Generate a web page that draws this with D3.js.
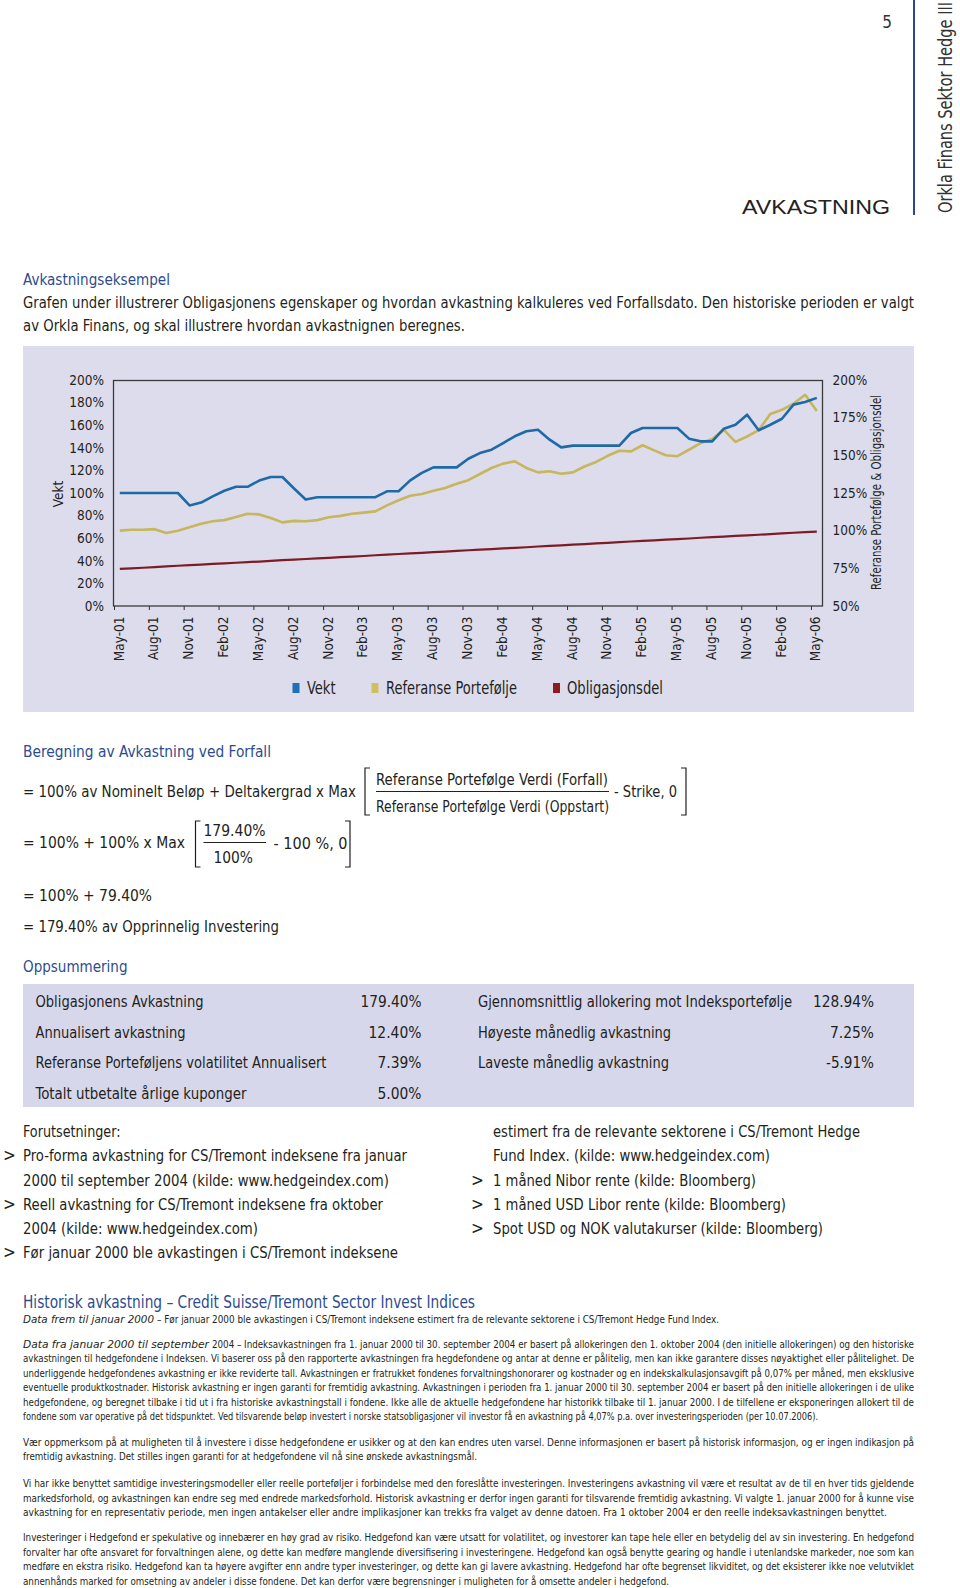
<!DOCTYPE html>
<html><head><meta charset="utf-8">
<script src="https://cdn.jsdelivr.net/npm/d3@7"></script>
<style>html,body{margin:0;padding:0;background:#fff;} svg{display:block;}</style>
</head><body><svg id="page" width="960" height="1588"></svg>
<script>
// ---------- chart data ----------
const months = ["May-01","Jun-01","Jul-01","Aug-01","Sep-01","Oct-01","Nov-01","Dec-01",
"Jan-02","Feb-02","Mar-02","Apr-02","May-02","Jun-02","Jul-02","Aug-02","Sep-02","Oct-02","Nov-02","Dec-02",
"Jan-03","Feb-03","Mar-03","Apr-03","May-03","Jun-03","Jul-03","Aug-03","Sep-03","Oct-03","Nov-03","Dec-03",
"Jan-04","Feb-04","Mar-04","Apr-04","May-04","Jun-04","Jul-04","Aug-04","Sep-04","Oct-04","Nov-04","Dec-04",
"Jan-05","Feb-05","Mar-05","Apr-05","May-05","Jun-05","Jul-05","Aug-05","Sep-05","Oct-05","Nov-05","Dec-05",
"Jan-06","Feb-06","Mar-06","Apr-06","May-06"];
const tickLabels = ["May-01","Aug-01","Nov-01","Feb-02","May-02","Aug-02","Nov-02","Feb-03","May-03","Aug-03","Nov-03",
"Feb-04","May-04","Aug-04","Nov-04","Feb-05","May-05","Aug-05","Nov-05","Feb-06","May-06"];
// Vekt (left axis, %)
const vekt = [100,100,100,100,100,100,89,91.5,97,102,105.5,105.5,111,114.2,114.2,104,94.3,96.3,96.3,96.3,
96.3,96.3,96.3,101.5,101.5,111.2,117.8,122.7,122.7,122.7,130.3,135.3,138.3,144.2,150.2,154.6,156,147.2,140.4,141.9,
141.9,141.9,141.9,141.9,153.1,157.5,157.5,157.5,157.5,148.1,145.7,145.7,156.9,160.4,169.3,155.5,160.4,165.7,178.2,180.5,184.2];
// Referanse Portefølje (right axis, %)
const referanse = [100,100.6,100.6,101,98.4,100,102.2,104.6,106.2,107,109,111.2,110.8,108.4,105.5,106.5,106.2,107,108.9,109.8,
111.2,112,112.8,116.8,120.2,123.2,124.3,126.5,128.3,131.2,133.5,137.6,141.6,144.5,146,141.6,138.7,139.4,137.8,138.7,
142.6,145.6,149.7,153,152.6,156.7,153.3,150.1,149.4,153.7,158.1,160.9,166.9,158.9,162.5,166.7,177.5,180.2,184.3,190.2,179.4];
// Obligasjonsdel (right axis, %)
const obligasjonsdel = [74.6,75.0,75.4,75.8,76.3,76.7,77.1,77.5,77.9,78.3,78.7,79.1,79.5,79.9,80.4,80.8,81.2,81.6,82.0,82.4,
82.8,83.2,83.7,84.1,84.5,84.9,85.3,85.7,86.1,86.6,87.0,87.4,87.8,88.2,88.6,89.0,89.5,89.9,90.3,90.7,
91.1,91.5,91.9,92.4,92.8,93.2,93.6,94.0,94.4,94.8,95.3,95.7,96.1,96.5,96.9,97.3,97.7,98.2,98.6,99.0,99.4];
const leftTicks = [0,20,40,60,80,100,120,140,160,180,200];
const rightTicks = [50,75,100,125,150,175,200];
const seriesNames = ["Vekt","Referanse Portefølje","Obligasjonsdel"];

// summary table
const sumLabelsL = ["Obligasjonens Avkastning","Annualisert avkastning","Referanse Porteføljens volatilitet Annualisert","Totalt utbetalte årlige kuponger"];
const sumValuesL = ["179.40%","12.40%","7.39%","5.00%"];
const sumLabelsR = ["Gjennomsnittlig allokering mot Indeksportefølje","Høyeste månedlig avkastning","Laveste månedlig avkastning"];
const sumValuesR = ["128.94%","7.25%","-5.91%"];

// ---------- styles ----------
const FF = "'Liberation Sans Narrow','Arial Narrow','DejaVu Sans Condensed','Roboto Condensed','Noto Sans',sans-serif";
const INK = "#231f20", BLUEH = "#2d4c8e", BG = "#dcdced", BGT = "#d7d7eb";
const C_VEKT = "#1f6aa6", C_REF = "#c6b65c", C_OBL = "#7d1c24";
const L_VEKT = "#1e70b8", L_REF = "#d0bf62", L_OBL = "#8e1b22";

const svg = d3.select("#page").attr("font-family", FF);

function T(g, x, y, s, o = {}) {
  const t = g.append("text").attr("x", x).attr("y", y).text(s)
    .attr("font-size", o.size || 16.5).attr("fill", o.fill || INK);
  if (o.w) t.attr("textLength", o.w).attr("lengthAdjust", "spacingAndGlyphs");
  if (o.anchor) t.attr("text-anchor", o.anchor);
  if (o.italic) t.attr("font-style", "italic");
  if (o.family) t.attr("font-family", o.family);
  if (o.rot) t.attr("transform", `rotate(${o.rot},${x},${y})`);
  return t;
}

// ---------- header ----------
T(svg, 887, 28, "5", {size: 17, anchor: "middle", fill: "#333"});
svg.append("line").attr("x1", 914).attr("x2", 914).attr("y1", 0).attr("y2", 215)
  .attr("stroke", "#2c4b8c").attr("stroke-width", 2);
T(svg, 890, 213.5, "AVKASTNING", {size: 21, anchor: "end", w: 148, family: "'Liberation Sans',Arial,sans-serif", fill: "#222"});
T(svg, 951.5, 213, "Orkla Finans Sektor Hedge III", {size: 19, rot: -90, w: 211, fill: "#333"});

// ---------- intro ----------
T(svg, 23, 285, "Avkastningseksempel", {w: 147, fill: BLUEH});
T(svg, 23, 308, "Grafen under illustrerer Obligasjonens egenskaper og hvordan avkastning kalkuleres ved Forfallsdato. Den historiske perioden er valgt", {w: 891});
T(svg, 23, 330.5, "av Orkla Finans, og skal illustrere hvordan avkastnignen beregnes.", {w: 442});

// ---------- chart ----------
svg.append("rect").attr("x", 23).attr("y", 346).attr("width", 891).attr("height", 366).attr("fill", BG);
const x = d3.scaleLinear().domain([0, months.length]).range([114, 822.6]);
const yL = d3.scaleLinear().domain([0, 200]).range([606, 380]);
const yR = d3.scaleLinear().domain([50, 200]).range([606, 380]);
const chart = svg.append("g");

const axL = chart.append("g").attr("transform", "translate(113.5,0)")
  .call(d3.axisLeft(yL).tickValues(leftTicks).tickFormat(d => d + "%").tickSize(0).tickPadding(9.5));
const axR = chart.append("g").attr("transform", "translate(822.5,0)")
  .call(d3.axisRight(yR).tickValues(rightTicks).tickFormat(d => d + "%").tickSize(0).tickPadding(10));
const axB = chart.append("g").attr("transform", "translate(0,606)")
  .call(d3.axisBottom(x).tickValues(tickLabels.map(l => months.indexOf(l))).tickFormat(i => months[i]).tickSize(4));
[axL, axR, axB].forEach(a => {
  a.select(".domain").remove();
  a.attr("font-family", FF);
  a.selectAll("text").attr("fill", INK).attr("font-size", 13.5);
  a.selectAll("line").attr("stroke", "#333").attr("stroke-width", 1);
});
axB.selectAll("text").attr("transform", "rotate(-90)").attr("text-anchor", "end")
  .attr("x", -10.5).attr("y", 9).attr("dy", 0).attr("font-size", 13.5);

chart.append("rect").attr("x", 113.5).attr("y", 380.5).attr("width", 709).attr("height", 225.5)
  .attr("fill", "none").attr("stroke", "#3a3a3a").attr("stroke-width", 1.3);

const lineL = d3.line().x((d, i) => x(i + 0.5)).y(d => yL(d));
const lineR = d3.line().x((d, i) => x(i + 0.5)).y(d => yR(d));
chart.append("path").datum(obligasjonsdel).attr("d", lineR).attr("fill", "none").attr("stroke", C_OBL).attr("stroke-width", 2.2);
chart.append("path").datum(referanse).attr("d", lineR).attr("fill", "none").attr("stroke", C_REF).attr("stroke-width", 2.6).attr("stroke-linejoin", "round");
chart.append("path").datum(vekt).attr("d", lineL).attr("fill", "none").attr("stroke", C_VEKT).attr("stroke-width", 2.6).attr("stroke-linejoin", "round");

T(chart, 62.5, 494, "Vekt", {size: 13.5, anchor: "middle", rot: -90});
T(chart, 881, 492.5, "Referanse Portefølge & Obligasjonsdel", {size: 13.5, anchor: "middle", rot: -90, w: 195});

// legend
const legX = [292.5, 371.5, 553], legTX = [307, 386, 567], legW = [28.5, 131, 96], legC = [L_VEKT, L_REF, L_OBL];
const leg = chart.append("g");
seriesNames.forEach((n, i) => {
  leg.append("rect").attr("x", legX[i]).attr("y", 683).attr("width", 7).attr("height", 10).attr("fill", legC[i]);
  T(leg, legTX[i], 693.5, n, {size: 17, w: legW[i]});
});

// ---------- formula ----------
T(svg, 23, 756.5, "Beregning av Avkastning ved Forfall", {w: 248, fill: BLUEH});
T(svg, 23, 796.5, "= 100% av Nominelt Beløp + Deltakergrad x Max", {w: 333});
function bracket(xl, xr, top, bot) {
  svg.append("path").attr("d", `M${xl + 5},${top}H${xl}V${bot}H${xl + 5}M${xr - 5},${top}H${xr}V${bot}H${xr - 5}`)
    .attr("fill", "none").attr("stroke", INK).attr("stroke-width", 1.2);
}
bracket(365, 686, 768, 815);
T(svg, 376, 784.5, "Referanse Portefølge Verdi (Forfall)", {w: 232});
svg.append("line").attr("x1", 376).attr("x2", 609).attr("y1", 791.5).attr("y2", 791.5).attr("stroke", INK).attr("stroke-width", 1.1);
T(svg, 376, 811.5, "Referanse Portefølge Verdi (Oppstart)", {w: 233});
T(svg, 614, 796.5, "- Strike, 0", {w: 63});

T(svg, 23, 848, "= 100% + 100% x Max", {w: 162});
bracket(195.5, 350, 821, 867);
T(svg, 203.5, 836, "179.40%", {w: 62});
svg.append("line").attr("x1", 203.5).attr("x2", 266).attr("y1", 842.5).attr("y2", 842.5).attr("stroke", INK).attr("stroke-width", 1.1);
T(svg, 213.5, 863, "100%", {w: 39.5});
T(svg, 273.5, 848.5, "- 100 %, 0", {w: 74});

T(svg, 23, 900.5, "= 100% + 79.40%", {w: 129});
T(svg, 23, 932, "= 179.40% av Opprinnelig Investering", {w: 256});

// ---------- summary ----------
T(svg, 23, 972, "Oppsummering", {w: 104.5, fill: BLUEH});
svg.append("rect").attr("x", 23).attr("y", 984).attr("width", 891).attr("height", 123).attr("fill", BGT);
const rowBase = [1007, 1037.5, 1068, 1098.5];
const wLL = [168, 150, 291, 211], wLR = [314, 193, 191];
const wVL = [61, 53, 44, 44], wVR = [61, 44, 48];
sumLabelsL.forEach((s, i) => {
  T(svg, 35.5, rowBase[i], s, {w: wLL[i]});
  T(svg, 421.5, rowBase[i], sumValuesL[i], {anchor: "end", w: wVL[i]});
});
sumLabelsR.forEach((s, i) => {
  T(svg, 478, rowBase[i], s, {w: wLR[i]});
  T(svg, 874, rowBase[i], sumValuesR[i], {anchor: "end", w: wVR[i]});
});

// ---------- assumptions ----------
const aBase = [1137, 1161, 1185.5, 1209.5, 1234, 1258];
T(svg, 23, aBase[0], "Forutsetninger:", {w: 97.5});
const leftLines = [
  [">", "Pro-forma avkastning for CS/Tremont indeksene fra januar", 384],
  ["", "2000 til september 2004 (kilde: www.hedgeindex.com)", 366],
  [">", "Reell avkastning for CS/Tremont indeksene fra oktober", 360],
  ["", "2004 (kilde: www.hedgeindex.com)", 235],
  [">", "Før januar 2000 ble avkastingen i CS/Tremont indeksene", 375]];
leftLines.forEach((l, i) => {
  if (l[0]) T(svg, 3, aBase[i + 1], l[0], {size: 17});
  T(svg, 23, aBase[i + 1], l[1], {w: l[2]});
});
const rightLines = [
  ["", "estimert fra de relevante sektorene i CS/Tremont Hedge", 367],
  ["", "Fund Index. (kilde: www.hedgeindex.com)", 277],
  [">", "1 måned Nibor rente (kilde: Bloomberg)", 263],
  [">", "1 måned USD Libor rente (kilde: Bloomberg)", 293],
  [">", "Spot USD og NOK valutakurser (kilde: Bloomberg)", 330]];
rightLines.forEach((l, i) => {
  if (l[0]) T(svg, 471, aBase[i], l[0], {size: 17});
  T(svg, 493, aBase[i], l[1], {w: l[2]});
});

// ---------- disclaimer ----------
T(svg, 23, 1307.5, "Historisk avkastning – Credit Suisse/Tremont Sector Invest Indices", {size: 17.5, w: 452, fill: BLUEH});
T(svg, 23, 1323, "Data frem til januar 2000", {size: 11, w: 131, italic: true});
T(svg, 157, 1323, "– Før januar 2000 ble avkastingen i CS/Tremont indeksene estimert fra de relevante sektorene i CS/Tremont Hedge Fund Index.", {size: 11, w: 562});

T(svg, 23, 1348, "Data fra januar 2000 til september", {size: 11, w: 186, italic: true});
T(svg, 212, 1348, "2004 – Indeksavkastningen fra 1. januar 2000 til 30. september 2004 er basert på allokeringen den 1. oktober 2004 (den initielle allokeringen) og den historiske", {size: 11, w: 702});
const paras = [
  [[1362.3, "avkastningen til hedgefondene i Indeksen. Vi baserer oss på den rapporterte avkastningen fra hegdefondene og antar at denne er pålitelig, men kan ikke garantere disses nøyaktighet eller pålitelighet. De", 891],
   [1376.7, "underliggende hedgefondenes avkastning er ikke reviderte tall. Avkastningen er fratrukket fondenes forvaltningshonorarer og kostnader og en indekskalkulasjonsavgift på 0,07% per måned, men eksklusive", 891],
   [1391.2, "eventuelle produktkostnader. Historisk avkastning er ingen garanti for fremtidig avkastning. Avkastningen i perioden fra 1. januar 2000 til 30. september 2004 er basert på den initielle allokeringen i de ulike", 891],
   [1405.6, "hedgefondene, og beregnet tilbake i tid ut i fra historiske avkastningstall i fondene. Ikke alle de aktuelle hedgefondene har historikk tilbake til 1. januar 2000. I de tilfellene er eksponeringen allokert til de", 891],
   [1420, "fondene som var operative på det tidspunktet. Ved tilsvarende beløp investert i norske statsobligasjoner vil investor få en avkastning på 4,07% p.a. over investeringsperioden (per 10.07.2006).", 795]],
  [[1445.5, "Vær oppmerksom på at muligheten til å investere i disse hedgefondene er usikker og at den kan endres uten varsel. Denne informasjonen er basert på historisk informasjon, og er ingen indikasjon på", 891],
   [1460, "fremtidig avkastning. Det stilles ingen garanti for at hedgefondene vil nå sine ønskede avkastningsmål.", 454]],
  [[1487, "Vi har ikke benyttet samtidige investeringsmodeller eller reelle porteføljer i forbindelse med den foreslåtte investeringen. Investeringens avkastning vil være et resultat av de til en hver tids gjeldende", 891],
   [1501.5, "markedsforhold, og avkastningen kan endre seg med endrede markedsforhold. Historisk avkastning er derfor ingen garanti for tilsvarende fremtidig avkastning. Vi valgte 1. januar 2000 for å kunne vise", 891],
   [1516, "avkastning for en representativ periode, men ingen antakelser eller andre implikasjoner kan trekks fra valget av denne datoen. Fra 1 oktober 2004 er den reelle indeksavkastningen benyttet.", 864]],
  [[1541, "Investeringer i Hedgefond er spekulative og innebærer en høy grad av risiko. Hedgefond kan være utsatt for volatilitet, og investorer kan tape hele eller en betydelig del av sin investering. En hedgefond", 891],
   [1555.5, "forvalter har ofte ansvaret for forvaltningen alene, og dette kan medføre manglende diversifisering i investeringene. Hedgefond kan også benytte gearing og handle i utenlandske markeder, noe som kan", 891],
   [1570, "medføre en ekstra risiko. Hedgefond kan ta høyere avgifter enn andre typer investeringer, og dette kan gi lavere avkastning. Hedgefond har ofte begrenset likviditet, og det eksisterer ikke noe velutviklet", 891],
   [1584.5, "annenhånds marked for omsetning av andeler i disse fondene. Det kan derfor være begrensninger i muligheten for å omsette andeler i hedgefond.", 646]]];
paras.forEach(p => p.forEach(l => T(svg, 23, l[0], l[1], {size: 11, w: l[2]})));
</script>
</body></html>
